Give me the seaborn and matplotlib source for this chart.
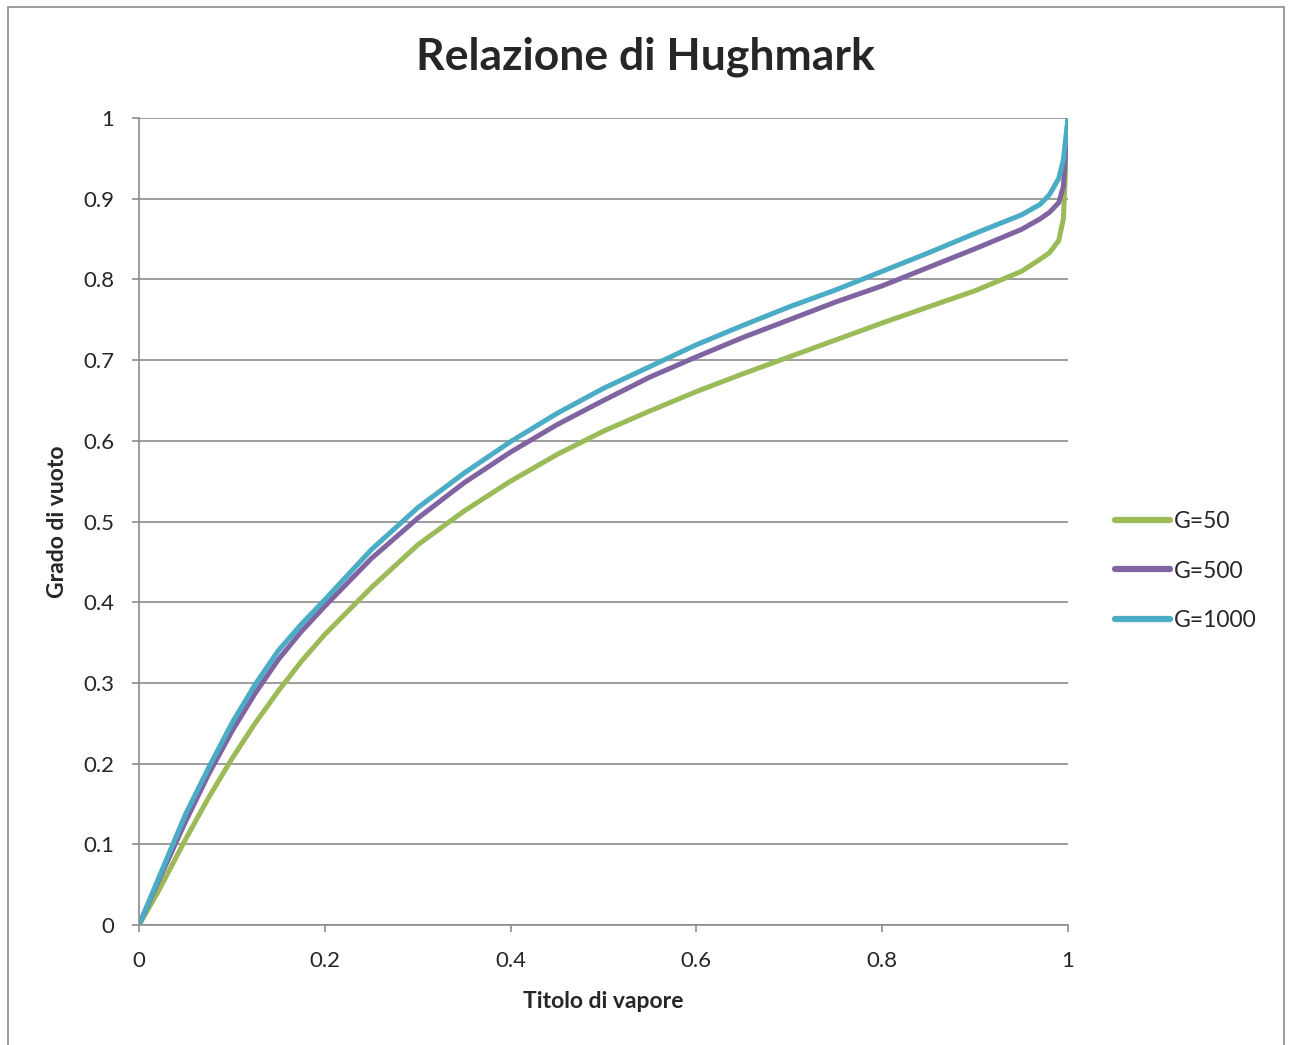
import numpy as np
import pandas as pd
import matplotlib
matplotlib.use("Agg")
import matplotlib.pyplot as plt
from matplotlib.patches import Rectangle
import seaborn as sns

# Data
titolo = [0, 0.02, 0.05, 0.075, 0.1, 0.125, 0.15, 0.175, 0.2, 0.25, 0.3, 0.35, 0.4,
          0.45, 0.5, 0.55, 0.6, 0.65, 0.7, 0.75, 0.8, 0.85, 0.9, 0.95, 0.97,
          0.98, 0.99, 0.995, 1.0]
g50 = [0, 0.04, 0.106, 0.158, 0.206, 0.250, 0.290, 0.327, 0.360, 0.418, 0.471,
       0.513, 0.550, 0.583, 0.612, 0.637, 0.661, 0.683, 0.704, 0.725, 0.746,
       0.766, 0.786, 0.810, 0.825, 0.833, 0.848, 0.875, 1.0]
g500 = [0, 0.052, 0.128, 0.187, 0.240, 0.287, 0.329, 0.364, 0.395, 0.454, 0.504,
        0.548, 0.586, 0.620, 0.650, 0.679, 0.704, 0.728, 0.750, 0.772, 0.792,
        0.815, 0.838, 0.862, 0.875, 0.883, 0.895, 0.915, 1.0]
g1000 = [0, 0.055, 0.137, 0.195, 0.250, 0.298, 0.340, 0.373, 0.403, 0.465, 0.517,
         0.560, 0.599, 0.634, 0.665, 0.692, 0.719, 0.743, 0.766, 0.787, 0.810,
         0.833, 0.857, 0.880, 0.893, 0.905, 0.925, 0.948, 1.0]
series_names = ["G=50", "G=500", "G=1000"]
colors = ["#9BBB59", "#8064A2", "#4BACC6"]
xticks = [0, 0.2, 0.4, 0.6, 0.8, 1]
yticks = [0, 0.1, 0.2, 0.3, 0.4, 0.5, 0.6, 0.7, 0.8, 0.9, 1]

rows = []
for name, vals in zip(series_names, [g50, g500, g1000]):
    for x, y in zip(titolo, vals):
        rows.append({"Titolo": x, "Grado": y, "Serie": name})
df = pd.DataFrame(rows)

sns.set_style("white")
plt.rcParams["font.family"] = ["Lato", "DejaVu Sans"]

fig = plt.figure(figsize=(12.9, 10.45), dpi=100)
ax = fig.add_axes([139/1290, 1-925/1045, (1068-139)/1290, (925-118)/1045])

sns.lineplot(data=df, x="Titolo", y="Grado", hue="Serie", hue_order=series_names,
             palette=colors, linewidth=3.6, ax=ax, sort=False, estimator=None,
             solid_joinstyle="round", solid_capstyle="round")

ax.set_xlim(0, 1)
ax.set_ylim(0, 1)
ax.set_xticks(xticks)
ax.set_xticklabels([f"{t:g}" for t in xticks])
ax.set_yticks(yticks)
ax.set_yticklabels([f"{t:g}" for t in yticks])
ax.yaxis.grid(True, color="#8c8c8c", linewidth=1.2)
ax.xaxis.grid(False)
ax.set_axisbelow(True)
for s in ["top", "right"]:
    ax.spines[s].set_visible(False)
for s in ["left", "bottom"]:
    ax.spines[s].set_color("#8c8c8c")
    ax.spines[s].set_linewidth(1.2)
ax.tick_params(axis="both", which="both", direction="out", length=5, width=1.2,
               color="#8c8c8c", labelsize=16, bottom=True, left=True)
ax.tick_params(axis="x", pad=14)
ax.tick_params(axis="y", pad=13)

ax.set_xlabel("Titolo di vapore", fontsize=16.5, fontweight="bold")
ax.xaxis.set_label_coords(0.5, (925-1002)/807)
ax.xaxis.label.set_va("center")
ax.set_ylabel("Grado di vuoto", fontsize=16.5, fontweight="bold")
ax.yaxis.set_label_coords((58-139)/929, 0.5)
ax.yaxis.label.set_va("center")
fig.text(645/1290, 1-57/1045, "Relazione di Hughmark", ha="center", va="center",
         fontsize=32, fontweight="bold")

leg = ax.legend(loc="center left", bbox_to_anchor=(1.0506, (925-571)/807),
                frameon=False, fontsize=16.5, handlelength=2.4, handletextpad=0.15,
                labelspacing=1.25, borderaxespad=0, borderpad=0)
for line in leg.get_lines():
    line.set_linewidth(4.5)
    line.set_solid_capstyle("round")

fig.patches.append(Rectangle((8/1290, -0.02), (1284-8)/1290, 1.02-7/1045,
                             transform=fig.transFigure, fill=False,
                             edgecolor="#8c8c8c", linewidth=1.2))

fig.savefig("out.png", dpi=100)
